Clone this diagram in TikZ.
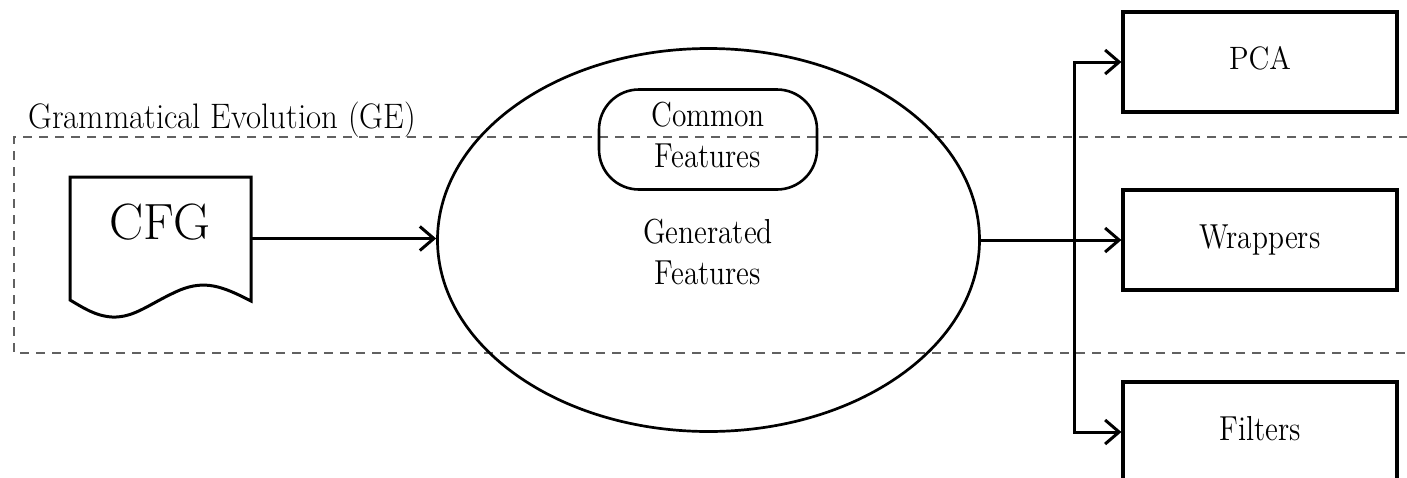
\documentclass[tikz,border=0pt]{standalone}
\usepackage{graphicx}
\usetikzlibrary{arrows.meta,shapes.geometric}
% labels are set slightly taller than the font's natural shape
\newcommand{\tallbox}[2][1.18]{\scalebox{1}[#1]{\begin{tabular}{@{}c@{}}#2\end{tabular}}}
\begin{document}
\begin{tikzpicture}[x=0.5pt,y=-0.5pt,
  txt/.style={font=\fontsize{14.7}{17}\selectfont, align=center, inner sep=0pt},
  stage/.style={draw, line width=1.6pt, minimum width=137pt, minimum height=50pt, inner sep=0pt,
    font=\fontsize{14.7}{17}\selectfont},
  arr/.style={line width=1.5pt, -{Straight Barb[length=7pt,width=12pt,line width=1.5pt]}},
  region/.style={dashed, dash pattern=on 4.5pt off 3.5pt, line width=0.9pt, black!62}]
\useasboundingbox (0,0) rectangle (1407,477);

% GE region (runs off the right edge)
\draw[region] (1440,137) -- (14,137) -- (14,353) -- (1440,353);
\node[anchor=base west, inner sep=0pt, font=\fontsize{16.4}{18}\selectfont] (ge) at (28,128) {\scalebox{1}[1.08]{Grammatical Evolution (GE)}};

% grammar document
\node[inner sep=0pt, minimum width=90.5pt, minimum height=62pt] (cfg) at (160.5,238.5) {};
\draw[line width=1.5pt]
  (70,300) -- (70,177) -- (251,177) -- (251,301)
  .. controls (222,286) and (205,280) .. (180,290)
  .. controls (150,303) and (135,318) .. (112,317)
  .. controls (95,316) and (82,307) .. cycle;
\node[inner sep=0pt, font=\fontsize{25.5}{28}\selectfont] (cfgtext) at (160,222) {CFG};

% generated feature pool
\node[draw, ellipse, line width=1.35pt, minimum width=271pt, minimum height=191.5pt, inner sep=0pt] (gen) at (708.5,240) {};
\node[draw, line width=1.3pt, rounded corners=20pt, minimum width=109pt, minimum height=50pt, inner sep=0pt] (common) at (708,139.5) {};
\node[txt] (commontext) at (708,139) {\tallbox{Common\\Features}};
\node[txt] (gentext) at (708,256) {\tallbox{Generated\\Features}};

% selection methods
\node[stage] (pca) at (1260,62) {\tallbox[1.1]{PCA}};
\node[stage] (wrap) at (1260,240) {\tallbox{Wrappers}};
\node[stage] (filt) at (1260,432) {\tallbox{Filters}};

% connectors
\draw[arr] (cfg.east) -- (cfg.east -| gen.west);
\coordinate (split) at (1074,240);
\draw[arr] (gen.east) -- (wrap.west);
\draw[arr] (split) |- (pca.west);
\draw[arr] (split) |- (filt.west);
\end{tikzpicture}
\end{document}
